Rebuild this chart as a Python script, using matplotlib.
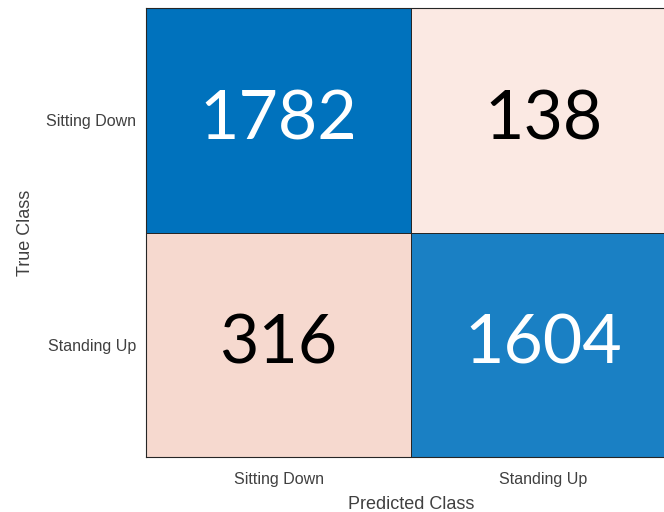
import numpy as np
import matplotlib
matplotlib.use("Agg")
import matplotlib.pyplot as plt
from matplotlib.colors import ListedColormap

classes = ["Sitting Down", "Standing Up"]
counts = np.array([[1782, 138],
                   [316, 1604]])
# cell colours as drawn by the original (diagonal blue, off-diagonal salmon)
cell_colors = [["#0072BD", "#FBE9E3"],
               ["#F6D9CF", "#1A80C4"]]
text_colors = [["white", "black"],
               ["black", "white"]]

fig = plt.figure(figsize=(6.64, 5.12), dpi=100)
# axes runs past the right edge, like the cropped original
ax = fig.add_axes([146 / 664, 55 / 512, 530 / 664, 449 / 512])

idx = np.arange(counts.size).reshape(counts.shape)
cmap = ListedColormap([c for row in cell_colors for c in row])
ax.pcolormesh(idx, cmap=cmap, edgecolors="#262626", linewidth=0.6)
ax.set_xlim(0, 2)
ax.set_ylim(2, 0)

for i in range(2):
    for j in range(2):
        ax.text(j + 0.5, i + 0.5, str(counts[i, j]), ha="center", va="center",
                fontsize=49, family="Lato", color=text_colors[i][j])

ax.set_xticks([0.5, 1.5])
ax.set_xticklabels(classes)
ax.set_yticks([0.5, 1.5])
ax.set_yticklabels(classes)
ax.tick_params(length=0, labelsize=11.5, labelcolor="#404040", labelfontfamily="Liberation Sans")
ax.tick_params(axis="x", pad=11)
ax.tick_params(axis="y", pad=7)
ax.set_xlabel("Predicted Class", fontsize=13, color="#404040",
              family="Liberation Sans", labelpad=6)
ax.set_ylabel("True Class", fontsize=13, color="#404040",
              family="Liberation Sans", labelpad=9)
for s in ax.spines.values():
    s.set_color("#262626")
    s.set_linewidth(0.8)

fig.savefig("out.png", dpi=100)
